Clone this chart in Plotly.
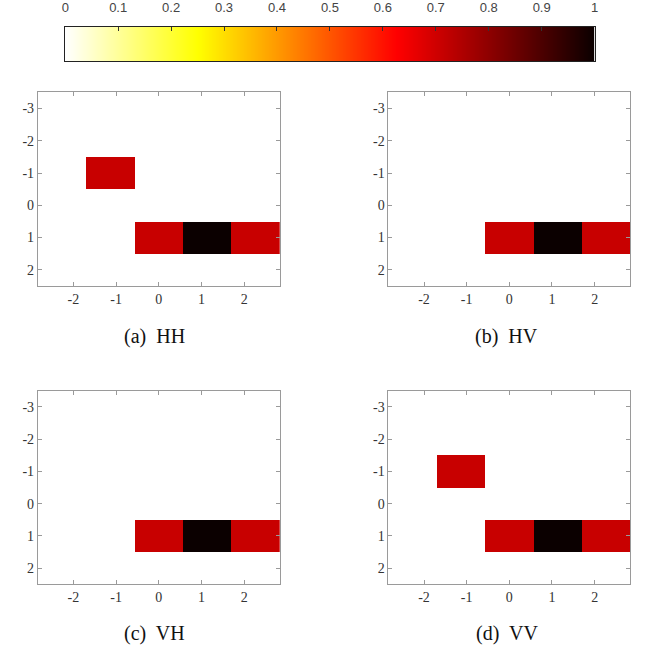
import plotly.graph_objects as go

# ---- data ----
x_centers = [-2.267, -1.133, 0.0, 1.133, 2.267]
y_centers = [-3, -2, -1, 0, 1, 2]
x_ticks = [-2, -1, 0, 1, 2]
x_ticklabels = ["-2", "-1", "0", "1", "2"]
y_ticks = [-3, -2, -1, 0, 1, 2]
y_ticklabels = ["-3", "-2", "-1", "0", "1", "2"]
cbar_ticks = [0, 0.1, 0.2, 0.3, 0.4, 0.5, 0.6, 0.7, 0.8, 0.9, 1]
cbar_ticklabels = ["0", "0.1", "0.2", "0.3", "0.4", "0.5", "0.6", "0.7", "0.8", "0.9", "1"]

z_HH = [
    [0, 0, 0, 0, 0],
    [0, 0, 0, 0, 0],
    [0, 0.71, 0, 0, 0],
    [0, 0, 0, 0, 0],
    [0, 0, 0.71, 1.0, 0.71],
    [0, 0, 0, 0, 0],
]
z_HV = [
    [0, 0, 0, 0, 0],
    [0, 0, 0, 0, 0],
    [0, 0, 0, 0, 0],
    [0, 0, 0, 0, 0],
    [0, 0, 0.71, 1.0, 0.71],
    [0, 0, 0, 0, 0],
]
z_VH = [
    [0, 0, 0, 0, 0],
    [0, 0, 0, 0, 0],
    [0, 0, 0, 0, 0],
    [0, 0, 0, 0, 0],
    [0, 0, 0.71, 1.0, 0.71],
    [0, 0, 0, 0, 0],
]
z_VV = [
    [0, 0, 0, 0, 0],
    [0, 0, 0, 0, 0],
    [0, 0.71, 0, 0, 0],
    [0, 0, 0, 0, 0],
    [0, 0, 0.71, 1.0, 0.71],
    [0, 0, 0, 0, 0],
]
panels = [("(a)  HH", z_HH), ("(b)  HV", z_HV), ("(c)  VH", z_VH), ("(d)  VV", z_VV)]

# reversed "hot" colormap
hot_r = [
    [0.0, "rgb(255,255,255)"],
    [0.25, "rgb(255,255,0)"],
    [0.625, "rgb(255,0,0)"],
    [1.0, "rgb(11,0,0)"],
]

W, H = 648, 653
fig = go.Figure()

# panel geometry in pixels: (left, right, top, bottom)
boxes = [
    (34.3, 279.3, 92.3, 286.0),
    (389.3, 634.0, 92.3, 286.0),
    (34.3, 279.3, 390.7, 584.3),
    (389.3, 634.0, 390.7, 584.3),
]
caption_pos = [(152, 336), (509, 336), (152, 633), (509, 633)]

axis_font = dict(family="Liberation Serif, DejaVu Serif, serif", size=14, color="#333333")

for i, ((label, z), (l, r, t, b), (cx, cy)) in enumerate(zip(panels, boxes, caption_pos)):
    n = "" if i == 0 else str(i + 1)
    fig.add_trace(go.Heatmap(
        x=x_centers, y=y_centers, z=z,
        coloraxis="coloraxis",
        xaxis="x" + n, yaxis="y" + n,
    ))
    common = dict(
        showgrid=False, zeroline=False, showline=True, mirror="ticks",
        linecolor="#9a9a9a", linewidth=1, ticks="inside", ticklen=4,
        tickcolor="#9a9a9a", tickfont=axis_font,
    )
    fig.update_layout(**{
        "xaxis" + n: dict(domain=[l / W, r / W], range=[-2.833, 2.833],
                          tickvals=x_ticks, ticktext=x_ticklabels,
                          anchor="y" + n, **common),
        "yaxis" + n: dict(domain=[1 - b / H, 1 - t / H], range=[2.5, -3.5],
                          tickvals=y_ticks, ticktext=y_ticklabels,
                          anchor="x" + n, **common),
    })
    fig.add_annotation(
        x=cx / W, y=1 - cy / H, xref="paper", yref="paper",
        text=label, showarrow=False, xanchor="center", yanchor="middle",
        font=dict(family="Liberation Serif, Times New Roman, serif", size=20, color="#111111"),
    )

# colour bar drawn as a smoothed heatmap on its own axis (labels on top, ticks inside)
cb_l, cb_r, cb_t, cb_b = 62, 598, 27, 61
fig.add_trace(go.Heatmap(
    x=cbar_ticks, y=[0, 1], z=[cbar_ticks, cbar_ticks],
    coloraxis="coloraxis", zsmooth="best",
    xaxis="x5", yaxis="y5", hoverinfo="skip",
))
fig.update_layout(
    xaxis5=dict(domain=[cb_l / W, cb_r / W], range=[0, 1], side="top",
                anchor="y5", showgrid=False, zeroline=False,
                showline=True, mirror=True, linecolor="#222222", linewidth=1,
                ticks="inside", ticklen=4, tickcolor="#333333", tickwidth=1,
                tickvals=cbar_ticks, ticktext=cbar_ticklabels,
                ticklabelstandoff=9,
                tickfont=dict(family="Liberation Sans, Arial, sans-serif", size=13, color="#444444"),
                fixedrange=True),
    yaxis5=dict(domain=[1 - cb_b / H, 1 - cb_t / H], range=[0, 1],
                anchor="x5", showgrid=False, zeroline=False,
                showline=True, mirror=True, linecolor="#222222", linewidth=1,
                ticks="", showticklabels=False, fixedrange=True),
)

fig.update_layout(
    width=W, height=H,
    margin=dict(l=0, r=0, t=0, b=0),
    paper_bgcolor="white", plot_bgcolor="rgba(0,0,0,0)",
    showlegend=False,
    coloraxis=dict(colorscale=hot_r, cmin=0, cmax=1, showscale=False),
)

fig.write_html(
    "out.html",
    config={"displayModeBar": False},
    post_script="document.body.style.margin='0';document.body.style.overflow='hidden';",
)
